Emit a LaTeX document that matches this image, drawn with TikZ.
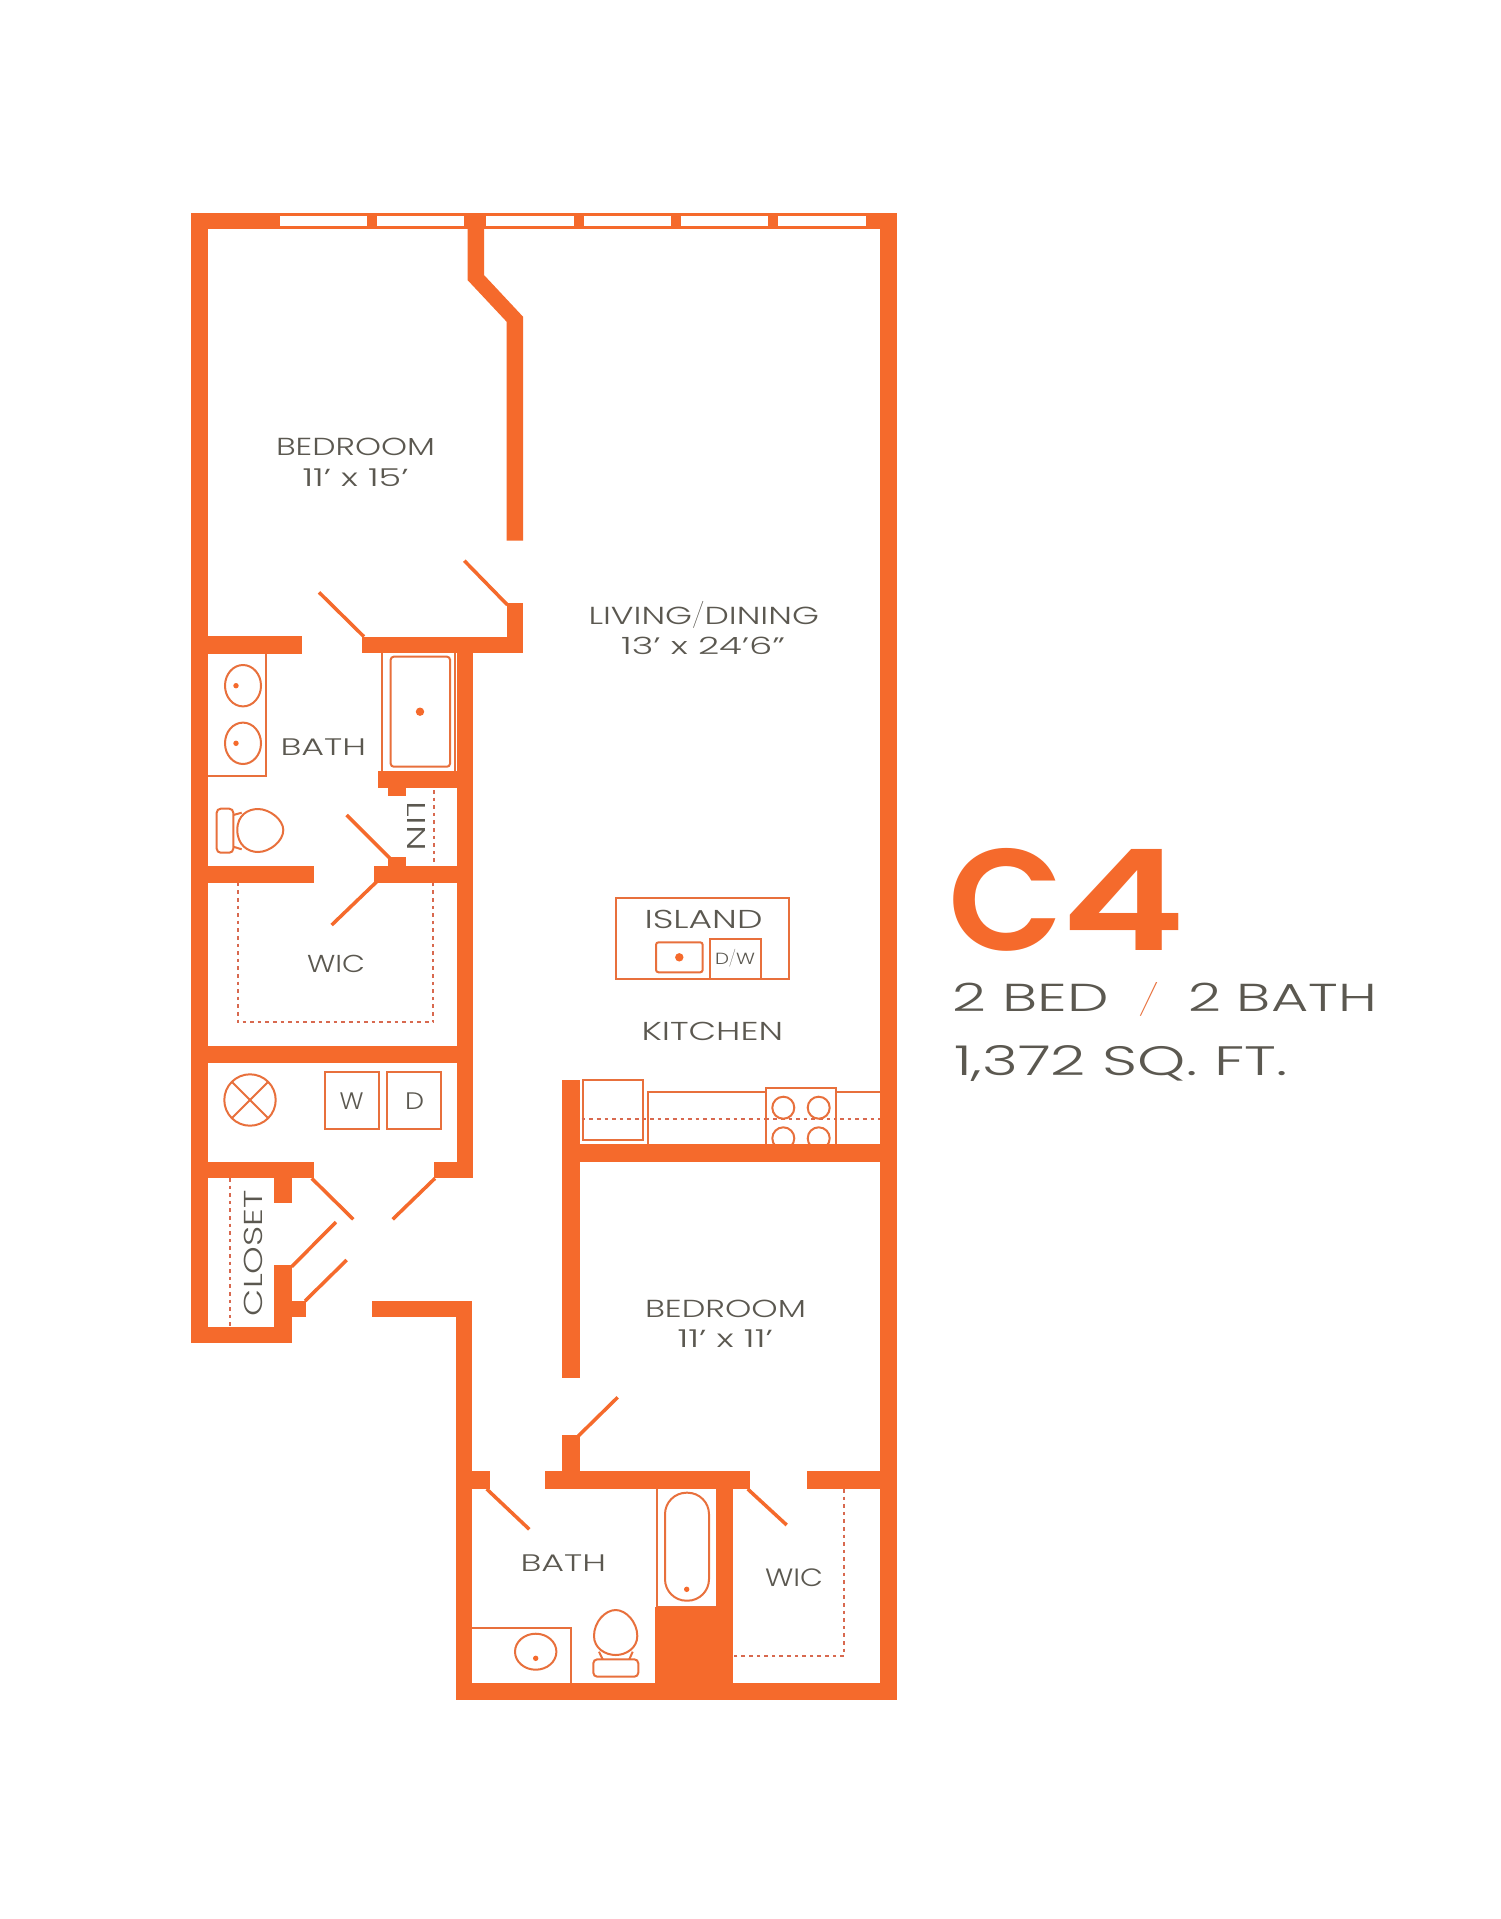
\documentclass[tikz,border=0pt]{standalone}
\usepackage{graphicx}
\usepackage{fontspec}
\newfontfamily\lf{Poppins Light}
\newfontfamily\tf{Poppins Thin}
\newfontfamily\hf{Poppins SemiBold}
\definecolor{wallc}{HTML}{F56A2C}
\definecolor{thinc}{HTML}{E8703C}
\definecolor{dashc}{HTML}{D8694F}
\definecolor{textc}{HTML}{5B5850}
\tikzset{
  wall/.style={fill=wallc,draw=none},
  door/.style={draw=wallc,line width=3.5pt},
  thin line/.style={draw=thinc,line width=2pt},
  closet line/.style={draw=dashc,line width=2.3pt,dash pattern=on 3.6pt off 4pt},
  txt/.style={inner sep=0pt,outer sep=0pt,text=textc,anchor=base west},
  rtxt/.style={inner sep=0pt,outer sep=0pt,text=textc,anchor=center}
}
% name, x left, baseline y, width, cap height, text
\newcommand{\lab}[6]{\node[txt] (#1) at (#2,#3) {\resizebox{#4pt}{#5pt}{\lf #6}};}
\begin{document}
\begin{tikzpicture}[x=1pt,y=-1pt]
\useasboundingbox (0,0) rectangle (1500,1919);
\fill[white] (0,0) rectangle (1500,1919);

% ---- fixtures (under walls)
% upper bath tub
\draw[thin line] (382.3,652) -- (382.3,771);
\draw[thin line] (455,652) -- (455,771);
\draw[thin line,rounded corners=3pt] (390.7,656.7) rectangle (450,766.7);
\fill[wallc] (420,711.7) circle[radius=4.2];
% vanity
\draw[thin line] (266,654) -- (266,775.7) -- (207,775.7);
\draw[thin line] (243,685.7) ellipse[x radius=18,y radius=20.7];
\draw[thin line] (243,743.3) ellipse[x radius=18,y radius=20.7];
\fill[wallc] (236,685.7) circle[radius=2.7];
\fill[wallc] (236,743.3) circle[radius=2.7];
% upper toilet
\draw[thin line,rounded corners=4pt] (216.7,808.7) rectangle (233.3,852.7);
\draw[thin line] (233.3,815) -- (241.7,812.7);
\draw[thin line] (233.3,846.7) -- (241.7,849.3);
\draw[thin line] (237.3,830) .. controls (237.3,815) and (248,809) .. (258,809) .. controls (270,809) and (283.3,820) .. (283.3,830) .. controls (283.3,841) and (270,852) .. (258,852) .. controls (248,852) and (237.3,845) .. (237.3,830);
% closets dashed
\draw[closet line] (237.7,882.7) -- (237.7,1022.3) -- (433.3,1022.3) -- (433.3,882.7);
\draw[closet line] (434.3,790) -- (434.3,866);
\draw[closet line] (230,1178) -- (230,1326.7);
\draw[closet line] (844.3,1489) -- (844.3,1655.7) -- (733.3,1655.7);
% laundry
\draw[thin line] (250,1100) circle[radius=25.7];
\draw[thin line] (231.8,1081.8) -- (268.2,1118.2);
\draw[thin line] (231.8,1118.2) -- (268.2,1081.8);
\draw[thin line] (325,1071.7) rectangle (378.7,1129.3);
\draw[thin line] (387.3,1071.7) rectangle (441,1129.3);
% island
\draw[thin line] (615.7,898.3) rectangle (789,979);
\draw[thin line,rounded corners=2.5pt] (656,942.3) rectangle (702.7,972.3);
\fill[wallc] (679.3,957.3) circle[radius=4.2];
\draw[thin line] (710,979) -- (710,939) -- (760.7,939) -- (760.7,979);
% kitchen
\draw[thin line] (583.3,1080) rectangle (643.3,1140);
\draw[thin line] (647.7,1146) -- (647.7,1092) -- (880,1092);
\draw[closet line] (581.7,1119.3) -- (880,1119.3);
\draw[thin line,fill=white] (765.7,1146) -- (765.7,1087.7) -- (836,1087.7) -- (836,1146);
\draw[closet line] (765.7,1119.3) -- (836,1119.3);
\draw[thin line] (783.3,1107.7) circle[radius=11];
\draw[thin line] (818.7,1107.7) circle[radius=11];
\draw[thin line] (783.3,1138.3) circle[radius=11];
\draw[thin line] (818.7,1138.3) circle[radius=11];
% lower bath
\draw[thin line] (656.7,1489) -- (656.7,1606.7) -- (716,1606.7);
\draw[thin line,rounded corners=21.5pt] (665,1492.7) rectangle (709,1600.7);
\fill[wallc] (686.7,1589.3) circle[radius=2.7];
\draw[thin line] (472,1628.3) -- (570.7,1628.3) -- (570.7,1684);
\draw[thin line] (535.7,1651.7) ellipse[x radius=20.7,y radius=18];
\fill[wallc] (535.7,1658.3) circle[radius=2.7];
\draw[thin line] (594,1636) .. controls (594,1622) and (605,1610) .. (615.7,1610) .. controls (626,1610) and (637.3,1622) .. (637.3,1636) .. controls (637.3,1648) and (626,1655) .. (615.7,1655) .. controls (605,1655) and (594,1648) .. (594,1636);
\draw[thin line,rounded corners=4pt] (593.3,1659.3) rectangle (638.3,1676.7);
\draw[thin line] (599,1651.7) -- (602.7,1659.3);
\draw[thin line] (632.7,1651.7) -- (629.3,1659.3);

% ---- doors
\draw[door] (464.3,560.7) -- (507.5,605);
\draw[door] (319,592.3) -- (364,636.7);
\draw[door] (346.7,815) -- (390,858.3);
\draw[door] (331.7,925) -- (376.7,881.7);
\draw[door] (311.7,1178.3) -- (353.3,1219.3);
\draw[door] (435,1178.3) -- (392.7,1219.3);
\draw[door] (291.7,1266.7) -- (336,1222);
\draw[door] (305,1301) -- (346.7,1260);
\draw[door] (486.7,1489) -- (529.3,1529.3);
\draw[door] (578.3,1436) -- (617.7,1397.3);
\draw[door] (747.7,1489) -- (786.7,1525);

% ---- walls
\fill[wall] (191.3,212.7) rectangle (897,229.3);
\fill[wall] (191.3,212.7) rectangle (207.5,1343.3);
\fill[wall] (880,212.7) rectangle (897,1700);
% bedroom/living wall
\fill[wall] (467.5,229) -- (484,229) -- (484,275) -- (523,316.7) -- (523,540.7) -- (506.6,540.7) -- (506.6,321.7) -- (467.5,280) -- cycle;
\fill[wall] (506.6,603.3) rectangle (523,652.7);
\fill[wall] (362.3,636.5) rectangle (523,652.7);
\fill[wall] (207,636) rectangle (302,654);
\fill[wall] (456.7,636.5) rectangle (473.3,1178.3);
% under tub
\fill[wall] (378.3,771) rectangle (456.7,787.7);
\fill[wall] (388.3,787) rectangle (405.7,795.7);
% bath/WIC
\fill[wall] (207,866) rectangle (314,882.7);
\fill[wall] (374.3,866) rectangle (456.7,882.7);
\fill[wall] (388.3,857.3) rectangle (405.7,866);
% WIC/laundry
\fill[wall] (207,1046) rectangle (473.3,1062.7);
% laundry/closet
\fill[wall] (207,1162.3) rectangle (314,1178.3);
\fill[wall] (434,1162.3) rectangle (473.3,1178.3);
\fill[wall] (274.3,1178) rectangle (291.7,1202.7);
\fill[wall] (274.3,1265) rectangle (291.7,1343.3);
\fill[wall] (291,1301) rectangle (306,1316.7);
\fill[wall] (191.3,1326.7) rectangle (291.7,1343.3);
% corridor / lower unit
\fill[wall] (371.7,1300.7) rectangle (472.3,1316.7);
\fill[wall] (456,1300.7) rectangle (472.3,1700);
\fill[wall] (456,1683.3) rectangle (897,1700);
\fill[wall] (472,1471) rectangle (490,1489);
\fill[wall] (545,1471) rectangle (750,1489);
\fill[wall] (807,1471) rectangle (881,1489);
\fill[wall] (562.3,1435) rectangle (580,1471);
\fill[wall] (562,1080) rectangle (580,1377.7);
\fill[wall] (562,1144) rectangle (881,1161.7);
\fill[wall] (716,1488) rectangle (733.3,1607);
\fill[wall] (655,1606.7) rectangle (733.3,1684);

% ---- windows
\fill[white] (279.8,216) rectangle (367.2,226);
\fill[white] (376.9,216) rectangle (464.3,226);
\fill[white] (486.3,216) rectangle (573.7,226);
\fill[white] (583.9,216) rectangle (671.3,226);
\fill[white] (680.9,216) rectangle (768.3,226);
\fill[white] (778,216) rectangle (866.3,226);

% ---- labels
\lab{bedA}{276}{455.7}{159}{17.4}{BEDROOM}
\lab{bedAd}{302.5}{486}{106}{17.7}{11’ x 15’}
\lab{liv}{588.5}{624}{230.5}{17.4}{LIVING{\tf\smash{/}}DINING}
\lab{livd}{621}{654.7}{164}{17.4}{13’ x 24’6”}
\lab{bathA}{280.5}{755}{85.5}{16.7}{BATH}
\lab{wicA}{307}{972.3}{58}{17.3}{WIC}
\lab{wsh}{339.7}{1109}{24}{16.7}{W}
\lab{dry}{405.2}{1109}{19}{16.7}{D}
\lab{isl}{644.5}{928.3}{118}{18.3}{ISLAND}
\lab{dw}{715}{964}{40}{11.3}{D{\tf\smash{/}}W}
\lab{kit}{641.5}{1040}{141.5}{18.3}{KITCHEN}
\lab{bedB}{645}{1317}{161}{17.4}{BEDROOM}
\lab{bedBd}{677.5}{1347}{95.5}{17.7}{11’ x 11’}
\lab{bathB}{520.5}{1571.7}{85.5}{16.7}{BATH}
\lab{wicB}{765}{1586}{58}{17.7}{WIC}
\node[rtxt,rotate=-90] (lin) at (416,826) {\resizebox{50pt}{18pt}{\lf LIN}};
\node[rtxt,rotate=90] (clo) at (253.5,1253) {\resizebox{126pt}{18.3pt}{\lf CLOSET}};

\node[txt,text=wallc] (cfour) at (948.5,950.5) {\resizebox{115pt}{102pt}{\hf C}\hspace{-2.5pt}\resizebox{124pt}{101pt}{\hf 4}};
\lab{bed}{952.5}{1011.7}{156}{28.4}{2 BED}
\node[txt,text=thinc] (slash) at (1138,1011.7) {\resizebox{21pt}{29pt}{\tf /}};
\lab{bth}{1188.5}{1011.7}{188.3}{28.4}{2 BATH}
\lab{sqft}{954}{1075}{333.3}{30}{1,372 SQ. FT.}
\end{tikzpicture}
\end{document}
